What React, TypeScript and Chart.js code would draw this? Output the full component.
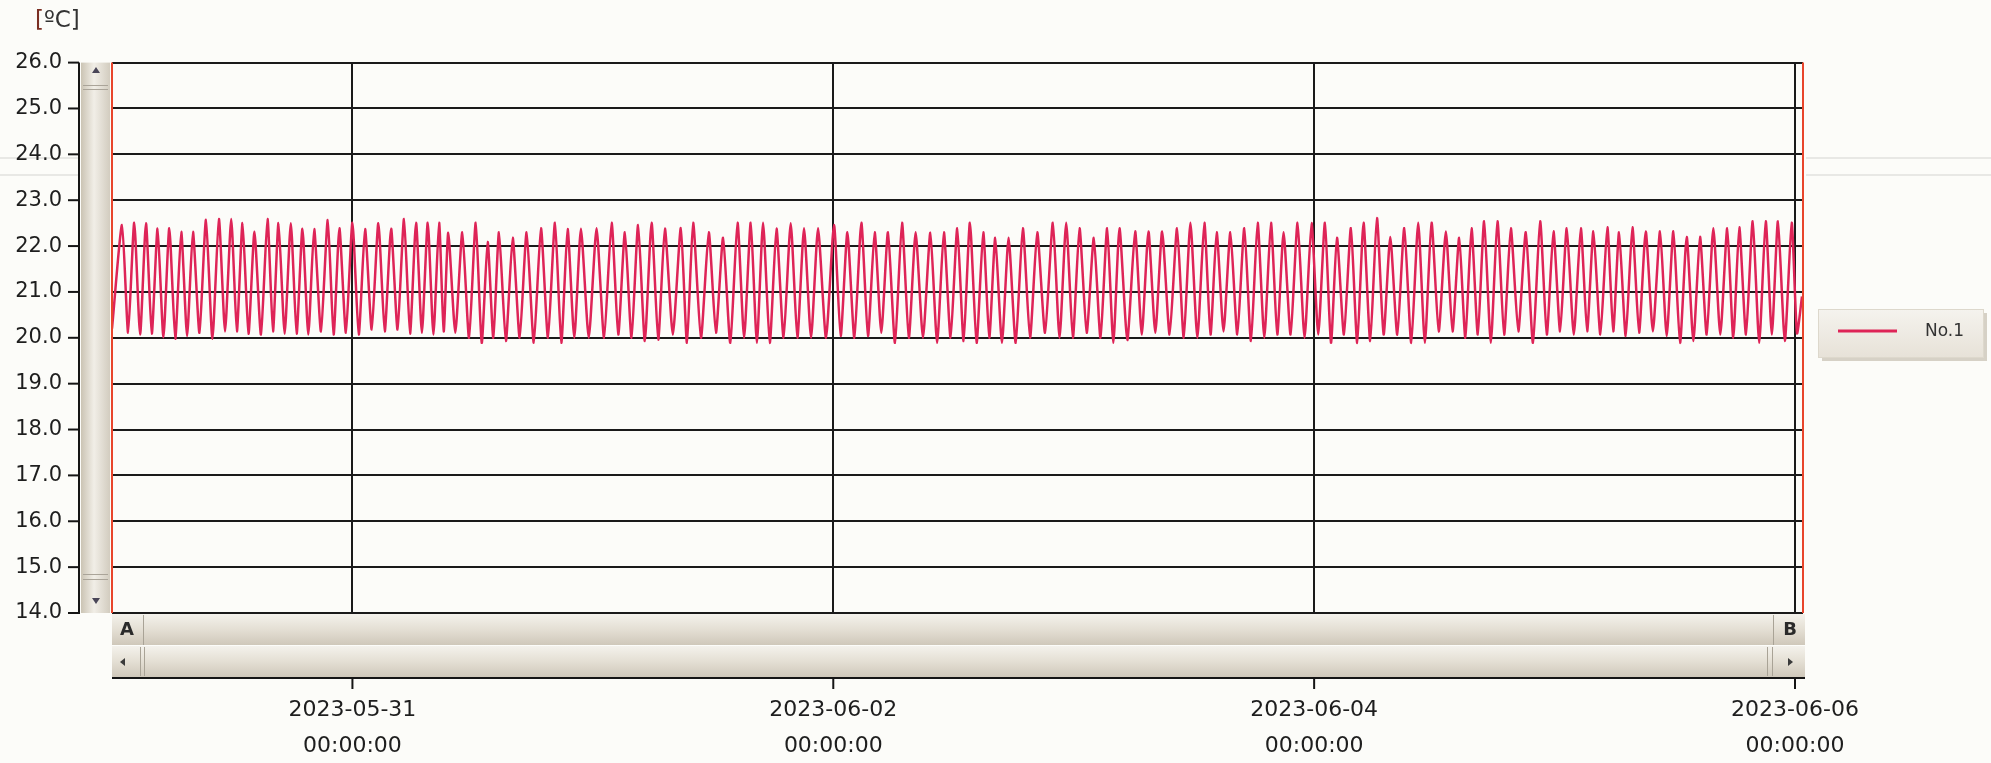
import React, { useEffect, useRef } from "react";
import { Chart, registerables } from "chart.js";
Chart.register(...registerables);

// ---- data (hours since 2023-05-30 00:00:00) ----
const seriesLabel = "No.1";
const startHour = 0;
const startValue = 20.2;
const endHour = 168.7;
const endValue = 20.9;
const lastTroughHour = 168.2;

const peakHours = [
  1.0, 2.22, 3.39, 4.55, 5.72, 6.91, 8.08, 9.38, 10.67, 11.9, 13.03, 14.22, 15.52, 16.62, 17.85, 19.01, 20.18, 21.54, 22.7, 24.0,
  25.26, 26.59, 27.86, 29.15, 30.35, 31.52, 32.65, 33.57, 34.97, 36.31, 37.5, 38.63, 40.0, 41.39, 42.82, 44.22, 45.48, 46.81, 48.37, 49.87,
  51.2, 52.52, 53.86, 55.19, 56.78, 58.01, 59.57, 61.0, 62.44, 63.76, 64.99, 66.33, 67.75, 69.08, 70.48, 72.07, 73.41, 74.8, 76.13, 77.46,
  78.86, 80.22, 81.69, 83.04, 84.38, 85.64, 86.97, 88.17, 89.5, 90.92, 92.36, 93.92, 95.25, 96.58, 98.01, 99.34, 100.57, 102.13, 103.46, 104.83,
  106.32, 107.65, 109.04, 110.27, 111.64, 113.03, 114.36, 115.69, 116.95, 118.35, 119.74, 121.08, 122.28, 123.67, 124.93, 126.27, 127.6, 129.0, 130.39, 131.72,
  133.15, 134.48, 135.71, 136.97, 138.3, 139.63, 141.13, 142.56, 143.89, 145.22, 146.62, 147.88, 149.27, 150.44, 151.77, 153.1, 154.53, 155.86, 157.19, 158.52,
  159.85, 161.24, 162.44, 163.78, 165.08, 166.3, 167.67,
];

const peakValues = [
  22.46, 22.51, 22.5, 22.38, 22.39, 22.31, 22.31, 22.57, 22.59, 22.59, 22.5, 22.31, 22.59, 22.5, 22.5, 22.38, 22.37, 22.57, 22.39, 22.51,
  22.37, 22.5, 22.38, 22.59, 22.51, 22.51, 22.51, 22.29, 22.3, 22.51, 22.09, 22.3, 22.18, 22.3, 22.39, 22.51, 22.37, 22.38, 22.39, 22.51,
  22.3, 22.46, 22.51, 22.38, 22.39, 22.51, 22.3, 22.18, 22.51, 22.51, 22.51, 22.38, 22.5, 22.39, 22.39, 22.46, 22.3, 22.51, 22.3, 22.3,
  22.51, 22.3, 22.29, 22.3, 22.39, 22.51, 22.3, 22.18, 22.18, 22.39, 22.3, 22.51, 22.51, 22.39, 22.18, 22.39, 22.39, 22.32, 22.32, 22.32,
  22.39, 22.51, 22.51, 22.3, 22.3, 22.39, 22.51, 22.51, 22.3, 22.51, 22.5, 22.51, 22.18, 22.39, 22.51, 22.61, 22.2, 22.39, 22.51, 22.51,
  22.32, 22.18, 22.39, 22.54, 22.54, 22.39, 22.3, 22.54, 22.32, 22.39, 22.39, 22.32, 22.41, 22.3, 22.41, 22.32, 22.32, 22.32, 22.2, 22.2,
  22.39, 22.39, 22.41, 22.54, 22.54, 22.54, 22.51,
];

// trough following each peak
const troughValues = [
  20.11, 20.07, 20.09, 20.01, 19.98, 20.04, 20.11, 19.98, 20.14, 20.14, 20.09, 20.07, 20.14, 20.09, 20.09, 20.07, 20.14, 20.07, 20.11, 20.07,
  20.18, 20.14, 20.18, 20.09, 20.11, 20.07, 20.14, 20.11, 20.0, 19.89, 20.0, 19.93, 20.0, 19.89, 20.0, 19.89, 20.0, 20.0, 20.0, 20.07,
  20.0, 19.93, 19.96, 20.07, 19.89, 20.0, 20.11, 19.89, 20.0, 19.89, 19.89, 20.0, 20.0, 20.0, 20.0, 20.04, 20.0, 20.04, 20.11, 19.89,
  20.0, 20.0, 19.89, 20.0, 19.93, 19.89, 20.0, 19.89, 19.89, 20.0, 20.11, 20.0, 20.0, 20.11, 20.0, 19.89, 19.95, 20.07, 20.11, 20.07,
  20.0, 20.0, 20.07, 20.14, 20.07, 19.93, 20.0, 20.07, 20.07, 20.0, 20.07, 19.89, 20.07, 19.89, 19.93, 20.07, 20.07, 19.89, 19.89, 20.14,
  20.14, 20.0, 20.07, 19.89, 20.07, 20.14, 19.89, 20.07, 20.14, 20.07, 20.14, 20.07, 20.14, 20.04, 20.11, 20.14, 20.04, 19.89, 19.93, 20.07,
  20.07, 20.0, 20.07, 19.89, 20.07, 19.93, 20.1,
];

const xTickHours = [24, 72, 120, 168];
const xTickDates = ["2023-05-31", "2023-06-02", "2023-06-04", "2023-06-06"];
const xTickTimes = ["00:00:00", "00:00:00", "00:00:00", "00:00:00"];
const yMin = 14;
const yMax = 26;
const xMax = 168.8;
const unitLabel = "[ºC]";

const LINE_COLOR = "#de2457";
const FONT = "'DejaVu Sans', Verdana, sans-serif";

function buildPoints() {
  const pts: { x: number; y: number }[] = [{ x: startHour, y: startValue }];
  for (let i = 0; i < peakHours.length; i++) {
    pts.push({ x: peakHours[i], y: peakValues[i] });
    const tx = i < peakHours.length - 1 ? (peakHours[i] + peakHours[i + 1]) / 2 : lastTroughHour;
    pts.push({ x: tx, y: troughValues[i] });
  }
  pts.push({ x: endHour, y: endValue });
  return pts;
}

const decorPlugin = {
  id: "decor",
  beforeDraw(chart: any) {
    const { ctx, width, height } = chart;
    ctx.save();
    ctx.fillStyle = "#fcfcf9";
    ctx.fillRect(0, 0, width, height);
    // faint scan lines
    ctx.strokeStyle = "rgba(0,0,0,0.08)";
    ctx.lineWidth = 2;
    [158, 175].forEach((y) => {
      ctx.beginPath();
      ctx.moveTo(0, y);
      ctx.lineTo(80, y);
      ctx.moveTo(1806, y);
      ctx.lineTo(width, y);
      ctx.stroke();
    });
    ctx.restore();
  },
  afterDraw(chart: any) {
    const { ctx, chartArea } = chart;
    const ys = chart.scales.y;
    const xs = chart.scales.x;
    const L = chartArea.left, R = chartArea.right, T = chartArea.top, B = chartArea.bottom;
    ctx.save();

    // vertical scrollbar on the left
    const sbL = 81, sbR = L - 2;
    let g = ctx.createLinearGradient(sbL, 0, sbR, 0);
    g.addColorStop(0, "#cbc4b4");
    g.addColorStop(0.45, "#f1eee7");
    g.addColorStop(1, "#d2ccbf");
    ctx.fillStyle = g;
    ctx.fillRect(sbL, T, sbR - sbL, B - T);
    ctx.strokeStyle = "#aaa499";
    ctx.lineWidth = 1;
    [85, 89, 574, 579].forEach((y) => {
      ctx.beginPath();
      ctx.moveTo(sbL + 2, y + 0.5);
      ctx.lineTo(sbR - 2, y + 0.5);
      ctx.stroke();
    });
    ctx.fillStyle = "#4a4658";
    ctx.beginPath();
    ctx.moveTo(96, 67); ctx.lineTo(92, 73); ctx.lineTo(100, 73); ctx.closePath(); ctx.fill();
    ctx.beginPath();
    ctx.moveTo(92, 598); ctx.lineTo(100, 598); ctx.lineTo(96, 604); ctx.closePath(); ctx.fill();

    // y axis line + ticks
    ctx.strokeStyle = "#151515";
    ctx.lineWidth = 2;
    ctx.beginPath();
    ctx.moveTo(79, T);
    ctx.lineTo(79, B + 1);
    ctx.stroke();
    for (let v = yMin; v <= yMax; v++) {
      const y = ys.getPixelForValue(v);
      ctx.beginPath();
      ctx.moveTo(68, y);
      ctx.lineTo(79, y);
      ctx.stroke();
    }

    // red boundary lines
    ctx.strokeStyle = "#e8452c";
    ctx.lineWidth = 2;
    ctx.beginPath();
    ctx.moveTo(L, T); ctx.lineTo(L, B);
    ctx.moveTo(R, T); ctx.lineTo(R, B);
    ctx.stroke();

    // horizontal scrollbars at the bottom
    const bx0 = L, bx1 = R + 2;
    const drawBar = (y0: number, y1: number) => {
      const gg = ctx.createLinearGradient(0, y0, 0, y1);
      gg.addColorStop(0, "#f4f2ec");
      gg.addColorStop(0.5, "#e4dfd4");
      gg.addColorStop(1, "#cfc8ba");
      ctx.fillStyle = gg;
      ctx.fillRect(bx0, y0, bx1 - bx0, y1 - y0);
    };
    drawBar(B + 1, 645);
    drawBar(646, 677);
    ctx.strokeStyle = "#a9a396";
    ctx.lineWidth = 1;
    [143, 1773].forEach((x) => {
      ctx.beginPath(); ctx.moveTo(x + 0.5, B + 2); ctx.lineTo(x + 0.5, 645); ctx.stroke();
    });
    [140, 144, 1767, 1772].forEach((x) => {
      ctx.beginPath(); ctx.moveTo(x + 0.5, 647); ctx.lineTo(x + 0.5, 676); ctx.stroke();
    });
    ctx.fillStyle = "#2a2a2a";
    ctx.font = `bold 18px ${FONT}`;
    ctx.textAlign = "center";
    ctx.textBaseline = "middle";
    ctx.fillText("A", 127, 630);
    ctx.fillText("B", 1790, 630);
    ctx.fillStyle = "#3a3a3a";
    ctx.beginPath();
    ctx.moveTo(120, 662); ctx.lineTo(125, 658); ctx.lineTo(125, 666); ctx.closePath(); ctx.fill();
    ctx.beginPath();
    ctx.moveTo(1793, 662); ctx.lineTo(1788, 658); ctx.lineTo(1788, 666); ctx.closePath(); ctx.fill();

    // x axis line + ticks
    ctx.strokeStyle = "#151515";
    ctx.lineWidth = 2;
    ctx.beginPath();
    ctx.moveTo(bx0, 678); ctx.lineTo(bx1, 678);
    ctx.stroke();
    xTickHours.forEach((h) => {
      const x = xs.getPixelForValue(h);
      ctx.beginPath(); ctx.moveTo(x, 678); ctx.lineTo(x, 689); ctx.stroke();
    });

    // unit label
    ctx.font = `23px ${FONT}`;
    ctx.textAlign = "left";
    ctx.textBaseline = "middle";
    ctx.fillStyle = "#7a2e22";
    ctx.fillText(unitLabel.charAt(0), 35, 21);
    const w0 = ctx.measureText(unitLabel.charAt(0)).width;
    ctx.fillStyle = "#333";
    ctx.fillText(unitLabel.slice(1), 35 + w0, 21);

    // legend
    const lx = 1818, ly = 309, lw = 165, lh = 48;
    ctx.fillStyle = "#d6d1c6";
    ctx.fillRect(lx + 4, ly + 4, lw, lh);
    const lg = ctx.createLinearGradient(0, ly, 0, ly + lh);
    lg.addColorStop(0, "#f5f3ee");
    lg.addColorStop(1, "#e7e2d8");
    ctx.fillStyle = lg;
    ctx.fillRect(lx, ly, lw, lh);
    ctx.strokeStyle = "#ddd8cc";
    ctx.lineWidth = 1;
    ctx.strokeRect(lx + 0.5, ly + 0.5, lw, lh);
    const ds = chart.data.datasets[0];
    ctx.strokeStyle = ds.borderColor;
    ctx.lineWidth = 3;
    ctx.beginPath(); ctx.moveTo(1838, 331); ctx.lineTo(1897, 331); ctx.stroke();
    ctx.fillStyle = "#333";
    ctx.font = `17px ${FONT}`;
    ctx.textAlign = "left";
    ctx.fillText(ds.label, 1925, 332);

    ctx.restore();
  },
};

export default function App() {
  const ref = useRef<HTMLCanvasElement>(null);
  useEffect(() => {
    document.body.style.margin = "0";
    const chart = new Chart(ref.current!, {
      type: "line",
      data: {
        datasets: [
          {
            label: seriesLabel,
            data: buildPoints(),
            borderColor: LINE_COLOR,
            backgroundColor: LINE_COLOR,
            borderWidth: 2.5,
            pointRadius: 0,
            tension: 0.2,
            fill: false,
          },
        ],
      },
      options: {
        animation: false,
        responsive: false,
        devicePixelRatio: 1,
        layout: { padding: { top: 55, right: 188, left: 0, bottom: 0 } },
        plugins: { legend: { display: false }, tooltip: { enabled: false } },
        scales: {
          x: {
            type: "linear",
            min: 0,
            max: xMax,
            afterBuildTicks: (scale: any) => {
              scale.ticks = xTickHours.map((v) => ({ value: v }));
            },
            afterFit: (scale: any) => {
              scale.height = 150;
            },
            ticks: {
              autoSkip: false,
              maxRotation: 0,
              padding: 80,
              color: "#1e1e1e",
              font: { family: FONT, size: 22, lineHeight: 1.6 },
              callback: (_v: any, i: number) => [xTickDates[i], xTickTimes[i]],
            },
            grid: { color: "#1a1a1a", lineWidth: 2, drawTicks: false },
            border: { display: false },
          },
          y: {
            min: yMin,
            max: yMax,
            afterFit: (scale: any) => {
              scale.width = 112;
            },
            ticks: {
              stepSize: 1,
              padding: 50,
              color: "#1e1e1e",
              font: { family: FONT, size: 21 },
              callback: (v: any) => Number(v).toFixed(1),
            },
            grid: { color: "#1a1a1a", lineWidth: 2, drawTicks: false },
            border: { display: false },
          },
        },
      },
      plugins: [decorPlugin],
    });
    return () => chart.destroy();
  }, []);
  return (
    <div style={{ position: "absolute", left: 0, top: 0, width: 1991, height: 763 }}>
      <canvas ref={ref} width={1991} height={763} style={{ width: 1991, height: 763, display: "block" }} />
    </div>
  );
}
